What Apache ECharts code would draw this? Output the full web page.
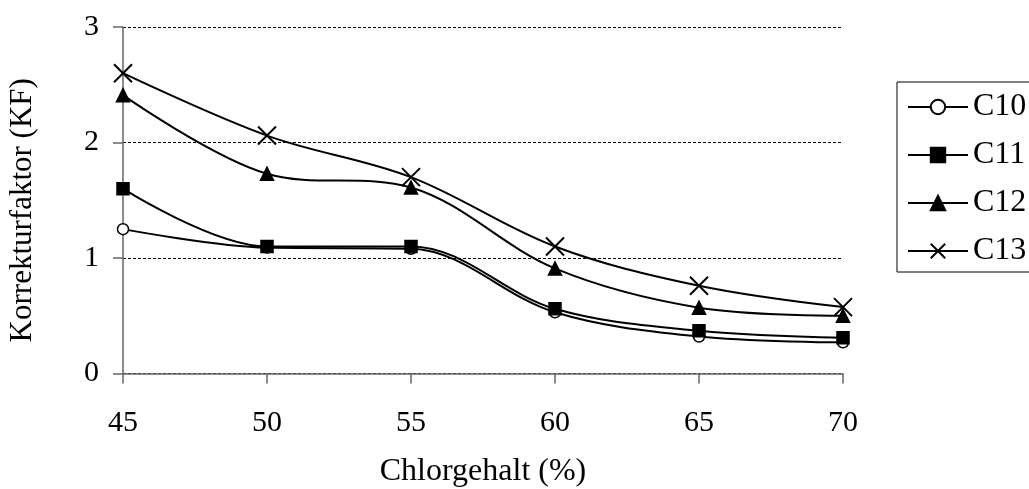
<!DOCTYPE html>
<html>
<head>
<meta charset="utf-8">
<script src="https://cdn.jsdelivr.net/npm/echarts@6/dist/echarts.min.js"></script>
<style>
  html, body { margin: 0; padding: 0; background: #fff; }
  #chart { width: 1029px; height: 489px; }
</style>
</head>
<body>
<div id="chart"></div>
<script>
// Chlorgehalt (%) on the x axis
const chlorgehalt = [45, 50, 55, 60, 65, 70]
// Korrekturfaktor per chain length
const c10 = [1.25, 1.09, 1.08, 0.53, 0.32, 0.27]
const c11 = [1.60, 1.10, 1.10, 0.56, 0.37, 0.31]
const c12 = [2.41, 1.73, 1.61, 0.91, 0.57, 0.50]
const c13 = [2.60, 2.06, 1.70, 1.10, 0.76, 0.575]
const seriesNames = ['C10', 'C11', 'C12', 'C13']

const serif = "'Liberation Serif', 'Times New Roman', serif"
const chart = echarts.init(document.getElementById('chart'))

function pairs (ys) {
  return chlorgehalt.map((x, i) => [x, ys[i]])
}

function lineSeries (name, ys, symbol, size, fill) {
  return {
    name: name,
    type: 'line',
    smooth: 0.35,
    data: pairs(ys),
    symbol: symbol,
    symbolSize: size,
    showAllSymbol: true,
    lineStyle: { color: '#000', width: 2 },
    itemStyle: { color: fill, borderColor: '#000', borderWidth: symbol.indexOf('path') === 0 ? 2 : 1.5, opacity: 1 },
    emphasis: { disabled: true },
    z: 3
  }
}

const option = {
  animation: false,
  backgroundColor: '#fff',
  textStyle: { fontFamily: serif, color: '#000' },
  grid: {
    left: 123,
    right: 186,
    top: 27,
    bottom: 115.5,
    outerBoundsMode: 'none'
  },
  legend: {
    orient: 'vertical',
    left: 897,
    top: 82,
    padding: [9, 24, 5, 10],
    itemWidth: 60,
    itemHeight: 18,
    itemGap: 16,
    borderColor: '#000',
    borderWidth: 1,
    data: seriesNames,
    textStyle: { fontFamily: serif, fontSize: 32, color: '#000' }
  },
  xAxis: {
    type: 'value',
    min: 45,
    max: 70,
    interval: 5,
    name: 'Chlorgehalt (%)',
    nameLocation: 'middle',
    nameGap: 82,
    nameTextStyle: { fontFamily: serif, fontSize: 32, color: '#000' },
    axisLine: { show: true, lineStyle: { color: '#666', width: 1.5 } },
    axisTick: { show: true, length: 10, lineStyle: { color: '#666', width: 1.5 } },
    axisLabel: { fontFamily: serif, fontSize: 30, color: '#000', margin: 35 },
    splitLine: { show: false }
  },
  yAxis: {
    type: 'value',
    min: 0,
    max: 3,
    interval: 1,
    name: 'Korrekturfaktor (KF)',
    nameLocation: 'middle',
    nameGap: 85,
    nameTextStyle: { fontFamily: serif, fontSize: 31, color: '#000', padding: [0, 20, 0, 0] },
    axisLine: { show: true, lineStyle: { color: '#666', width: 1.5 } },
    axisTick: { show: true, length: 10, lineStyle: { color: '#666', width: 1.5 } },
    axisLabel: { fontFamily: serif, fontSize: 30, color: '#000', margin: 24 },
    splitLine: { show: true, lineStyle: { color: '#000', width: 1, type: [3, 2] } }
  },
  series: [
    lineSeries('C10', c10, 'circle', 11, '#fff'),
    lineSeries('C11', c11, 'rect', 12, '#000'),
    lineSeries('C12', c12, 'triangle', 13, '#000'),
    lineSeries('C13', c13, 'path://M0,0L10,10M10,0L0,10', 18, '#000')
  ]
}
chart.setOption(option)
</script>
</body>
</html>
